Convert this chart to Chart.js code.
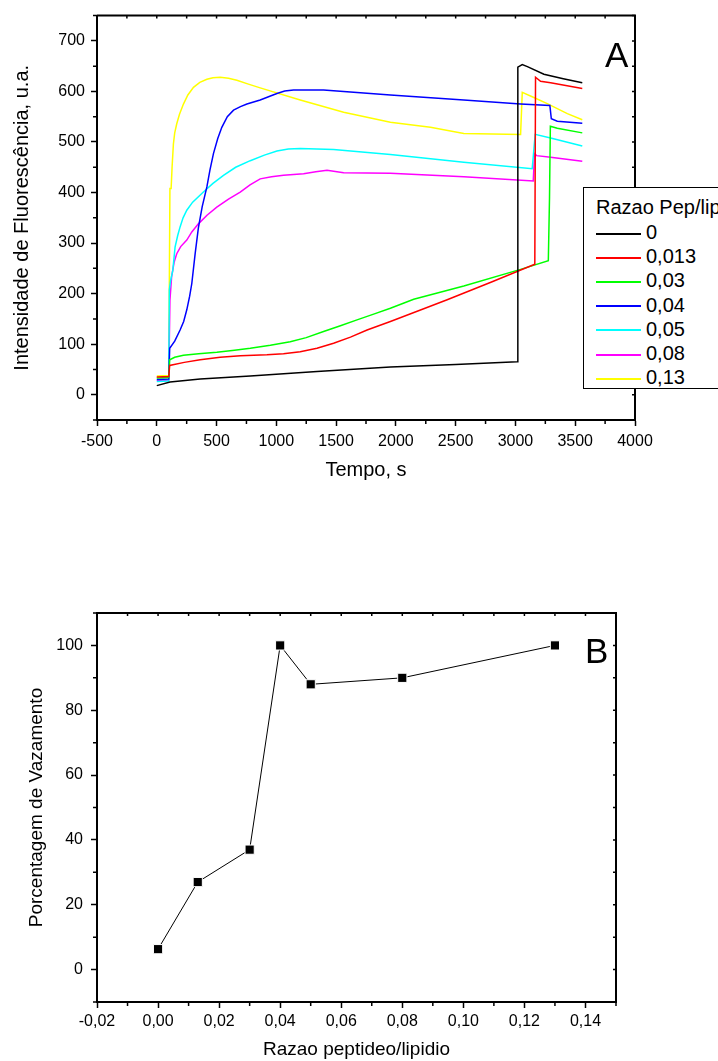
<!DOCTYPE html>
<html>
<head>
<meta charset="utf-8">
<script src="https://cdn.jsdelivr.net/npm/chart.js@4.4.1/dist/chart.umd.min.js"></script>
<style>
    body { margin: 0; width: 718px; height: 1061px; overflow: hidden; background: #fff;
           position: relative; font-family: 'Liberation Sans', Arial, sans-serif; color: #000; }
    canvas { position: absolute; left: 0; }
    #chartA { top: 0; }
    #chartB { top: 540px; }
    .painel { position: absolute; font-size: 35px; line-height: 1; }
    #legenda { position: absolute; left: 583px; top: 187px; width: 200px; height: 202px;
               border: 1px solid #000; box-sizing: border-box; background: #fff; font-size: 20px; }
    #legenda .tit { position: absolute; left: 12px; line-height: 24px; white-space: nowrap; }
    #legenda .item { position: absolute; left: 12px; height: 24px; line-height: 24px; white-space: nowrap; }
    #legenda .traco { display: inline-block; width: 45px; height: 0; vertical-align: middle;
                      border-top: 2px solid; margin-right: 5px; }
</style>
</head>
<body>
<canvas id="chartA" width="718" height="482"></canvas>
<canvas id="chartB" width="718" height="521"></canvas>
<div class="painel" style="left:605px; top:37px;">A</div>
<div class="painel" style="left:585px; top:633px;">B</div>
<div id="legenda"></div>

<script>
// ---- painel A: fluorescencia x tempo ----
const razoes = ['0', '0,013', '0,03', '0,04', '0,05', '0,08', '0,13']
const cores  = ['#000000', '#ff0000', '#00ff00', '#0000ff', '#00ffff', '#ff00ff', '#ffff00']

// [tempo (s), intensidade (u.a.)]
const curva0 = [[0,18],[111,25],[363,31],[782,37],[1340,46],[1954,55],[2500,60],[3015,65],
                [3020,648],[3057,653],[3100,649],[3238,634],[3400,625],[3559,617]]
const curva013 = [[0,35],[100,36],[108,58],[230,64],[363,69],[530,74],[700,77],[921,79],
                  [1060,81],[1200,85],[1340,92],[1479,102],[1620,114],[1759,128],[1954,145],
                  [2200,167],[2429,188],[2800,223],[3162,258],[3168,628],[3210,620],
                  [3294,617],[3559,606]]
const curva03 = [[0,33],[100,34],[108,69],[150,74],[223,78],[350,81],[502,84],[650,88],
                 [782,92],[950,98],[1116,105],[1250,113],[1395,125],[1530,136],[1675,148],
                 [1820,160],[1954,171],[2149,189],[2568,215],[3043,248],[3275,265],[3285,390],
                 [3292,531],[3350,527],[3559,518]]
const curva04 = [[0,30],[100,31],[108,92],[150,106],[195,128],[225,145],[251,168],[275,195],
                 [293,220],[321,279],[348,330],[380,372],[419,411],[445,445],[474,477],
                 [510,507],[544,529],[590,550],[642,563],[700,570],[754,575],[865,583],
                 [940,590],[1005,596],[1070,601],[1144,603],[1395,603],[1675,598],[1954,593],
                 [2568,583],[3043,575],[3288,572],[3300,546],[3350,541],[3559,537]]
const curva05 = [[0,26],[100,27],[105,207],[115,225],[134,246],[153,292],[175,315],[195,332],
                 [220,350],[251,365],[300,381],[390,401],[470,418],[558,434],[660,450],
                 [782,463],[900,474],[1005,482],[1100,486],[1200,487],[1479,485],[1954,475],
                 [2568,460],[3140,447],[3165,515],[3294,508],[3559,492]]
const curva08 = [[0,28],[100,29],[110,187],[124,233],[145,262],[167,279],[200,293],[251,306],
                 [293,322],[348,338],[420,355],[502,371],[600,387],[698,401],[780,415],
                 [865,427],[960,431],[1060,434],[1228,437],[1330,441],[1424,444],[1563,439],
                 [1954,438],[2568,431],[3149,423],[3160,477],[3177,473],[3294,470],[3559,462]]
const curva13 = [[0,37],[100,38],[110,408],[120,408],[128,450],[139,496],[150,518],[167,536],
                 [190,555],[223,575],[260,593],[307,608],[360,618],[419,624],[470,627],
                 [530,628],[600,626],[670,622],[760,615],[865,607],[1200,583],[1563,559],
                 [1954,539],[2289,529],[2568,517],[3043,515],[3057,598],[3154,588],[3266,576],
                 [3434,556],[3559,544]]
const curvas = [curva0, curva013, curva03, curva04, curva05, curva08, curva13]

// ---- painel B: vazamento x razao ----
const razaoPL   = [0, 0.013, 0.03, 0.04, 0.05, 0.08, 0.13]
const vazamento = [6.3, 27, 37, 100, 88, 90, 100]

Chart.defaults.font.family = "'Liberation Sans', Arial, sans-serif"
Chart.defaults.color = '#000'

// moldura superior/direita, ticks menores e ticks espelhados para dentro
function moldura(majorX, majorY) {
    return {
        id: 'moldura',
        afterDraw(chart) {
            const { ctx, chartArea: a, scales: { x, y } } = chart
            ctx.save()
            ctx.strokeStyle = '#000'
            ctx.lineWidth = 2
            ctx.beginPath()
            ctx.moveTo(a.left, a.top)
            ctx.lineTo(a.right, a.top)
            ctx.lineTo(a.right, a.bottom)
            ctx.stroke()
            ctx.lineWidth = 1.5
            ctx.beginPath()
            x.ticks.forEach(t => {
                const px = x.getPixelForValue(t.value)
                ctx.moveTo(px, a.top); ctx.lineTo(px, a.top + 3)
                if (!majorX(t.value)) { ctx.moveTo(px, a.bottom); ctx.lineTo(px, a.bottom + 4) }
            })
            y.ticks.forEach(t => {
                const py = y.getPixelForValue(t.value)
                ctx.moveTo(a.right, py); ctx.lineTo(a.right - 3, py)
                if (!majorY(t.value)) { ctx.moveTo(a.left, py); ctx.lineTo(a.left - 4, py) }
            })
            ctx.stroke()
            ctx.restore()
        }
    }
}

function eixo(opts) {
    return {
        type: 'linear',
        min: opts.min, max: opts.max,
        afterFit: opts.fit,
        border: { display: true, color: '#000', width: 2 },
        grid: {
            drawOnChartArea: false, drawTicks: true, tickLength: 6, tickWidth: 1.5,
            tickColor: c => opts.major(c.tick.value) ? '#000' : 'rgba(0,0,0,0)'
        },
        ticks: {
            stepSize: opts.step, autoSkip: false, maxRotation: 0, minRotation: 0,
            padding: opts.pad, font: { size: 16 }, color: '#000',
            callback: v => opts.major(v) && opts.show(v) ? opts.fmt(v) : ''
        },
        title: { display: true, text: opts.title, font: { size: opts.titleSize },
                 padding: opts.titlePad, color: '#000' }
    }
}

const majorXA = v => Math.round(v) % 500 === 0
const majorYA = v => Math.round(v) % 100 === 0

new Chart(document.getElementById('chartA'), {
    type: 'line',
    data: {
        datasets: curvas.map((c, i) => ({
            label: razoes[i],
            data: c.map(p => ({ x: p[0], y: p[1] })),
            borderColor: cores[i],
            borderWidth: 1.5,
            pointRadius: 0,
            tension: 0,
            fill: false
        }))
    },
    options: {
        responsive: false,
        animation: false,
        layout: { padding: { top: 15, right: 83, left: 0, bottom: 0 } },
        plugins: { legend: { display: false }, tooltip: { enabled: false } },
        scales: {
            x: eixo({ min: -500, max: 4000, step: 250, major: majorXA, show: () => true,
                      fmt: v => String(Math.round(v)), pad: 6, title: 'Tempo, s', titleSize: 20,
                      titlePad: { top: 0, bottom: 0 }, fit: s => { s.height = 62 } }),
            y: eixo({ min: -50, max: 750, step: 50, major: majorYA,
                      show: v => v >= 0 && v <= 700, fmt: v => String(Math.round(v)), pad: 6,
                      title: 'Intensidade de Fluorescência, u.a.', titleSize: 20,
                      titlePad: { top: 10, bottom: 0 }, fit: s => { s.width = 97 } })
        }
    },
    plugins: [moldura(majorXA, majorYA)]
})

const majorXB = v => Math.round(v * 100) % 2 === 0
const majorYB = v => Math.round(v) % 20 === 0

new Chart(document.getElementById('chartB'), {
    type: 'line',
    data: {
        datasets: [{
            label: 'Vazamento',
            data: razaoPL.map((r, i) => ({ x: r, y: vazamento[i] })),
            borderColor: '#000',
            borderWidth: 1,
            pointStyle: 'rect',
            pointRadius: 6.5,
            pointBackgroundColor: '#000',
            pointBorderColor: '#fff',
            pointBorderWidth: 1,
            tension: 0
        }]
    },
    options: {
        responsive: false,
        animation: false,
        layout: { padding: { top: 73, right: 102, left: 0, bottom: 0 } },
        plugins: { legend: { display: false }, tooltip: { enabled: false } },
        scales: {
            x: eixo({ min: -0.02, max: 0.15, step: 0.01, major: majorXB, show: v => v < 0.145,
                      fmt: v => (Math.round(v * 100) / 100 + 0).toFixed(2).replace('.', ','), pad: 4,
                      title: 'Razao peptideo/lipidio', titleSize: 19,
                      titlePad: { top: 0, bottom: 0 }, fit: s => { s.height = 59 } }),
            y: eixo({ min: -10, max: 110, step: 10, major: majorYB,
                      show: v => v >= 0 && v <= 100, fmt: v => String(Math.round(v)), pad: 8,
                      title: 'Porcentagem de Vazamento', titleSize: 19,
                      titlePad: { top: 25, bottom: 0 }, fit: s => { s.width = 97 } })
        }
    },
    plugins: [moldura(majorXB, majorYB)]
})

// legenda do painel A
const leg = document.getElementById('legenda')
leg.innerHTML = '<div class="tit" style="top:7px">Razao Pep/lipidio</div>'
razoes.forEach((r, i) => {
    leg.innerHTML += `<div class="item" style="top:${32 + i * 24.17}px">` +
        `<span class="traco" style="border-color:${cores[i]}"></span>${r}</div>`
})
</script>
</body>
</html>
